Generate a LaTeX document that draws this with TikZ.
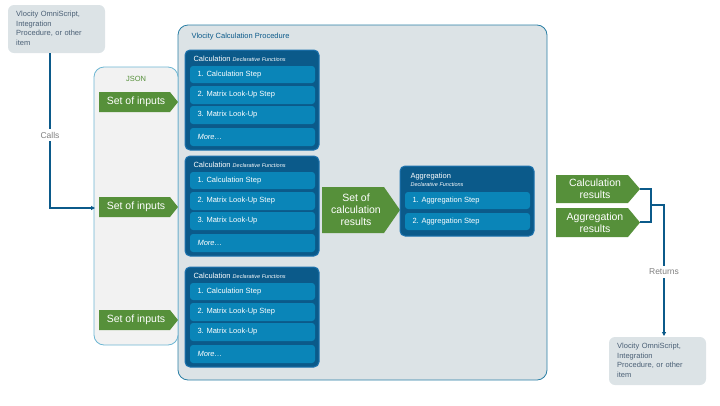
\documentclass[tikz,border=0pt]{standalone}
\usepackage{fontspec}
\setmainfont{Liberation Sans}
\usetikzlibrary{arrows.meta}
\definecolor{callgray}{HTML}{DCE3E6}
\definecolor{calltext}{HTML}{4A5F75}
\definecolor{procbg}{HTML}{DCE3E6}
\definecolor{procline}{HTML}{2A7FA5}
\definecolor{jsonbg}{HTML}{F2F2F2}
\definecolor{jsonline}{HTML}{6DB6D3}
\definecolor{fnblue}{HTML}{0B5A8A}
\definecolor{fnline}{HTML}{1E74B0}
\definecolor{stepblue}{HTML}{0A85B8}
\definecolor{datagreen}{HTML}{56903A}
\definecolor{wire}{HTML}{0B5A8A}
\tikzset{
  caller/.style={fill=callgray,rounded corners=6pt},
  fnbox/.style={fill=fnblue,draw=fnline,line width=1pt,rounded corners=5pt},
  fnstep/.style={fill=stepblue,rounded corners=3pt},
  steptext/.style={text=white,font=\fontsize{7.5}{8}\selectfont,anchor=west},
  data/.style={fill=datagreen},
  datatext/.style={text=white,font=\fontsize{10.5}{12}\selectfont,align=center},
  wire/.style={draw=wire,line width=1.3pt},
}
\begin{document}
\begin{tikzpicture}[x=1pt,y=-1pt]
  \useasboundingbox (0,0) rectangle (720,405);
  % callers
  \fill[caller] (8,5) rectangle (105,53);
  \node (caller) [text=calltext,font=\fontsize{7.5}{9.5}\selectfont,align=left,anchor=north west,text width=90pt,inner sep=0pt] at (16,11) {Vlocity OmniScript,\\Integration\\Procedure, or other\\item};
  \fill[caller] (609,337) rectangle (706,385);
  \node (target) [text=calltext,font=\fontsize{7.5}{9.5}\selectfont,align=left,anchor=north west,text width=90pt,inner sep=0pt] at (617,343) {Vlocity OmniScript,\\Integration\\Procedure, or other\\item};
  \coordinate (callsrc) at (50,53);
  \coordinate (callbend) at (50,208);
  \coordinate (jsonin) at (95,208);
  % procedure
  \draw[procline,fill=procbg,rounded corners=10pt,line width=0.8pt] (178,25) rectangle (547,380);
  \node (proc) [anchor=west,text=fnblue,font=\fontsize{7.5}{8}\selectfont] at (188,37) {Vlocity Calculation Procedure};
  % json
  \draw[jsonline,fill=jsonbg,rounded corners=10pt,line width=0.8pt] (94,67) rectangle (178,345);
  \node (json) [text=datagreen,font=\fontsize{7.5}{8}\selectfont] at (136,79) {JSON};
  \foreach \y/\n in {102/a,207/b,320/c}{
    \fill[data] (99,\y-10) -- (170,\y-10) -- (178,\y) -- (170,\y+10) -- (99,\y+10) -- cycle;
    \node (in\n) [datatext] at (136,\y) {Set of inputs};
  }
  % calculation blocks
  \foreach \t/\n in {50/a,156/b,267/c}{
    \draw[fnbox] (185,\t) rectangle (319,\t+100);
    \node (calc\n) [anchor=west,text=white,font=\fontsize{7.5}{8}\selectfont] at (190,\t+9) {Calculation \textit{\fontsize{5.5}{6}\selectfont Declarative Functions}};
    \fill[fnstep] (190,\t+16) rectangle (315,\t+33);
    \fill[fnstep] (190,\t+36) rectangle (315,\t+54);
    \fill[fnstep] (190,\t+56) rectangle (315,\t+74);
    \fill[fnstep] (190,\t+78) rectangle (315,\t+96);
    \node [steptext] at (194,\t+24.5) {1. Calculation Step};
    \node [steptext] at (194,\t+45) {2. Matrix Look-Up Step};
    \node [steptext] at (194,\t+65) {3. Matrix Look-Up};
    \node [steptext] at (194,\t+87) {\textit{More…}};
  }
  % set of calculation results
  \fill[data] (322,187) -- (384,187) -- (400,210) -- (384,233) -- (322,233) -- cycle;
  \node (calcres) [datatext] at (356,210) {Set of\\calculation\\results};
  % aggregation
  \draw[fnbox] (400,166) rectangle (534,236);
  \node (agg) [anchor=west,text=white,font=\fontsize{7.5}{8}\selectfont] at (407,177) {Aggregation};
  \node [anchor=west,text=white,font=\itshape\fontsize{5.5}{6}\selectfont] at (407,185) {Declarative Functions};
  \fill[fnstep] (405,192) rectangle (530,209);
  \fill[fnstep] (405,213) rectangle (530,230);
  \node [steptext] at (409,200.5) {1. Aggregation Step};
  \node [steptext] at (409,221.5) {2. Aggregation Step};
  % results
  \fill[data] (556,175) -- (628,175) -- (640,189) -- (628,203) -- (556,203) -- cycle;
  \node (resc) [datatext] at (595,189) {Calculation\\results};
  \fill[data] (556,208) -- (628,208) -- (640,222.5) -- (628,237) -- (556,237) -- cycle;
  \node (resa) [datatext] at (595,222.5) {Aggregation\\results};
  \coordinate (bra) at (640,189);
  \coordinate (brb) at (640,222);
  \coordinate (brm) at (651,205);
  \coordinate (retout) at (664,336);
  % connectors
  \draw[wire,-{Triangle[length=4pt,width=4pt]}] (callsrc) -- (callbend) -- (jsonin);
  \node (calls) [fill=white,text=gray,font=\fontsize{8.5}{9}\selectfont] at (50,135) {Calls};
  \draw[wire] (bra) -| (brm) |- (brb);
  \draw[wire,-{Triangle[length=4pt,width=4pt]}] (brm) -| (retout);
  \node (returns) [fill=white,text=gray,font=\fontsize{8.5}{9}\selectfont] at (664,272) {Returns};
\end{tikzpicture}
\end{document}
